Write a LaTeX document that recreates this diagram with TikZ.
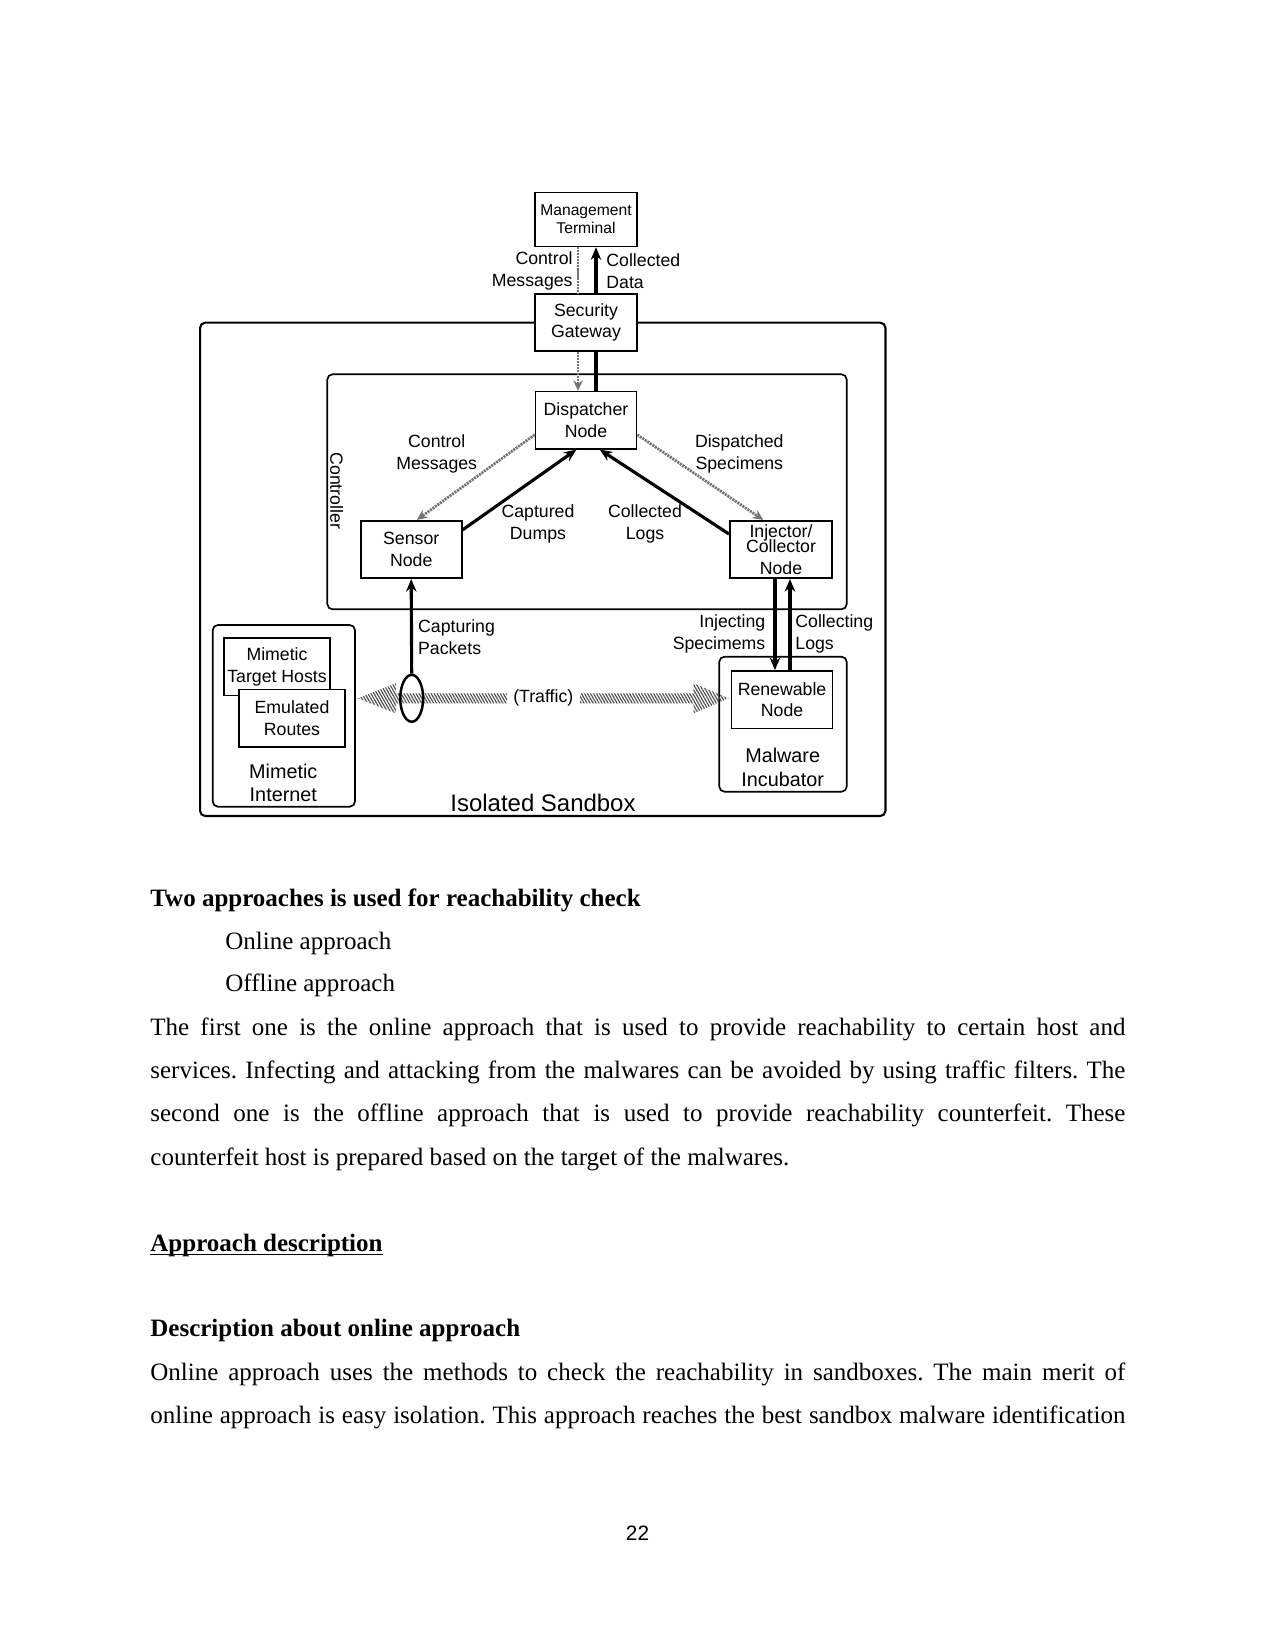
\documentclass[tikz,border=0pt]{standalone}
\usepackage{fontspec}
\setmainfont{Liberation Serif}
\newfontfamily\diagfont{Liberation Sans}
\usetikzlibrary{arrows.meta,positioning,shapes.geometric,calc,patterns.meta}

\begin{document}
\begin{tikzpicture}[
    x=0.48pt,y=-0.48pt,
    font=\diagfont\fontsize{8.5}{10.4}\selectfont,
    unitbox/.style={draw,line width=0.8pt,fill=white,align=center,inner sep=1pt,minimum width=48.5pt,minimum height=27.6pt},
    groupbox/.style={draw,line width=0.8pt,rounded corners=2.5pt,inner sep=0pt},
    flow/.style={-{Stealth[length=6pt,width=5pt]},line width=1.5pt},
    ctrl/.style={-{Stealth[open,length=5pt,width=4.5pt]},draw=black!55,line width=1.3pt,dash pattern=on 1pt off 0.45pt},
    trafficfill/.style={pattern={Lines[angle=120,distance=1.25pt,line width=0.55pt]},pattern color=black!70},
    grouplabel/.style={font=\diagfont\fontsize{9.5}{11.4}\selectfont,align=center},
    bodytext/.style={font=\rmfamily\fontsize{12}{20.8}\selectfont\frenchspacing,inner sep=0pt,anchor=base west},
    headtext/.style={bodytext,font=\rmfamily\bfseries\fontsize{12}{20.8}\selectfont},
    node distance=20pt
]
\fill[white] (0,0) rectangle (1275,1650);
\useasboundingbox (0,0) rectangle (1275,1650);

% containers
\node[groupbox,line width=1pt,minimum width=329pt,minimum height=236.8pt] (sandbox) at (542.75,569.35) {};
\node[groupbox,minimum width=249.3pt,minimum height=112.8pt] (controller) at (587,491.8) {};
\node[groupbox,minimum width=68.3pt,minimum height=87.2pt] (netbox) at (283.85,715.85) {};
\node[groupbox,minimum width=61.2pt,minimum height=64.8pt] (incubator) at (783,724.2) {};

% units
\node[unitbox,minimum width=49pt,minimum height=27.4pt] (gateway) at (586,322.5) {Security\\Gateway};
\node[unitbox,minimum width=49pt,minimum height=25.9pt,font=\diagfont\fontsize{7.5}{8.8}\selectfont,above=22pt of gateway] (mgmt) {Management\\Terminal};
\node[unitbox,minimum height=27.4pt,below=18.7pt of gateway] (dispatcher) {Dispatcher\\Node};
\node[unitbox] (sensor) at (411.2,549.5) {Sensor\\Node};
\node[unitbox,minimum width=49pt] (injector) at (781,549.5) {Injector/\\[-3.2pt]Collector\\Node};
\node[unitbox,below=43.7pt of injector,xshift=0.5pt] (renewable) {Renewable\\Node};
\node[unitbox,minimum width=50.9pt,minimum height=27.8pt] (hosts) at (277,666.7) {Mimetic\\Target Hosts};
\node[unitbox,minimum width=50.9pt,minimum height=27.8pt] (routes) at (292,718.3) {Emulated\\Routes};

% group labels
\node[font=\diagfont\fontsize{11.5}{13}\selectfont] (sandboxlabel) at (543,803) {Isolated Sandbox};
\node[grouplabel] (netlabel) at (283.3,783) {Mimetic\\Internet};
\node[grouplabel] (incubatorlabel) at (782.7,767.5) {Malware\\Incubator};
\node[rotate=-90] (controllerlabel) at (336.7,490.8) {Controller};

% traffic
\coordinate (tapc) at (411.7,698.3);
\coordinate (tl) at ($(netbox.east |- tapc)+(2,0)$);
\coordinate (tr) at ($(renewable.west |- tapc)+(-2,0)$);
\fill[trafficfill] (tl) -- ++(38,-15) -- ++(0,10) -- ($(tr)+(-35,-5)$) -- ++(0,-10) -- (tr)
    -- ++(-35,15) -- ++(0,-10) -- ($(tl)+(38,5)$) -- ++(0,10) -- cycle;
\node[fill=white,inner xsep=3pt,inner ysep=1pt] (traffic) at ($(tl)!0.5!(tr)$) {(Traffic)};
\node[draw,ellipse,line width=1.2pt,minimum width=11pt,minimum height=22.5pt,inner sep=0pt] (tap) at (tapc) {};

% connectors
\draw[ctrl,-] ([xshift=-3.84pt]mgmt.south) -- ([xshift=-3.84pt]mgmt.south |- gateway.north);
\draw[ctrl] ([xshift=-3.84pt]gateway.south) -- ([xshift=-3.84pt]gateway.south |- dispatcher.north);
\draw[line width=1.5pt] ([xshift=4.8pt]dispatcher.north) -- ([xshift=4.8pt]dispatcher.north |- gateway.south);
\draw[flow] ([xshift=4.8pt]gateway.north) -- ([xshift=4.8pt]gateway.north |- mgmt.south);
\draw[ctrl] ([yshift=-7pt]dispatcher.west) -- ([xshift=2.7pt]sensor.north);
\draw[flow] ([yshift=9.4pt]sensor.east) -- ([xshift=-4.6pt]dispatcher.south);
\draw[flow] ([yshift=7.4pt]injector.west) -- ([xshift=6.6pt]dispatcher.south);
\draw[ctrl] ([yshift=-7pt]dispatcher.east) -- ([xshift=-8.5pt]injector.north);
\draw[flow] ([xshift=-2.9pt]injector.south) -- ([xshift=-2.9pt]injector.south |- renewable.north);
\draw[flow] ([xshift=4.3pt]injector.south |- renewable.north) -- ([xshift=4.3pt]injector.south);
\draw[flow] (tap.north) -- (sensor.south);

% connector labels
\node[align=right,anchor=east,inner sep=0pt] (ctrltop) at (573,271) {Control\\Messages};
\node[align=left,anchor=west,inner sep=0pt] (datatop) at (606,271) {Collected\\Data};
\node[align=center] (ctrlleft) at (436.7,454) {Control\\Messages};
\node[align=center] (dispatched) at (739.3,454) {Dispatched\\Specimens};
\node[align=center] (dumps) at (538,524) {Captured\\Dumps};
\node[align=center] (logs) at (645,524) {Collected\\Logs};
\node[align=left,anchor=west,inner sep=0pt] (capturing) at (417.7,637.5) {Capturing\\Packets};
\node[align=right,anchor=east,inner sep=0pt] (injecting) at (765.7,633.7) {Injecting\\Specimems};
\node[align=left,anchor=west,inner sep=0pt] (collecting) at (795,633.7) {Collecting\\Logs};

% page text
\node[headtext] (twoapp) at (150,906) {Two approaches is used for reachability check};
\node[bodytext] (online) at (225,949) {Online approach};
\node[bodytext] (offline) at (225,991) {Offline approach};
\node[bodytext,text width=468pt,align=justify] (firstpar) at (150,1035) {The first one is the online approach that is used to provide reachability to certain host and\linebreak services. Infecting and attacking from the malwares can be avoided by using traffic filters. The\linebreak second one is the offline approach that is used to provide reachability counterfeit. These\linebreak counterfeit host is prepared based on the target of the malwares.};
\node[headtext] (approach) at (150,1251.7) {Approach description};
\draw[line width=0.6pt] ([yshift=-1.4pt]approach.base west) -- ([yshift=-1.4pt]approach.base east);
\node[headtext] (onlinehead) at (150,1336.7) {Description about online approach};
\node[bodytext,text width=468pt,align=justify] (secondpar) at (150,1380) {Online approach uses the methods to check the reachability in sandboxes. The main merit of\linebreak online approach is easy isolation. This approach reaches the best sandbox malware identification\parfillskip=0pt\par};
\node[font=\diagfont\fontsize{10}{12}\selectfont,anchor=base] (pagenum) at (637.5,1540.7) {22};
\end{tikzpicture}
\end{document}
